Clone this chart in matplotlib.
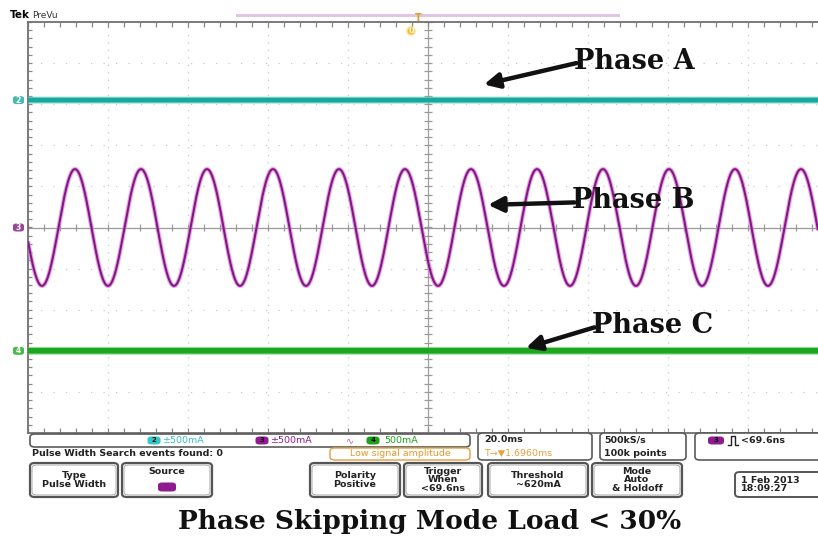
import numpy as np
import matplotlib
matplotlib.use("Agg")
import matplotlib.pyplot as plt
from matplotlib.patches import FancyBboxPatch, Ellipse

# ---- scope settings and channel data ----
time_per_div_ms = 20.0
volts_per_div_a = 0.5            # 500 mA/div on every channel
screen_time_ms = [-100.0, 97.5]  # visible part of the record
screen_divs = [-5.0, 5.0]

channel_names = ["Phase A", "Phase B", "Phase C"]
channel_ids = ["2", "3", "4"]
channel_offsets_div = [3.1, 0.0, -3.0]      # trace position on screen
channel_amplitudes_a = [0.0, 0.71, 0.0]     # peak current of each phase
channel_period_ms = 16.5
channel_peak_ms = -88.25
channel_colors = ["#18a89c", "#801a80", "#1ea61e"]
channel_halos = ["#5fd0c8", "#e07ae0", "#62d062"]
channel_widths = [3.4, 1.5, 4.0]

status_labels = ["±500mA", "±500mA", "500mA"]
button_labels = ["Type\nPulse Width", "Source", "Polarity\nPositive",
                 "Trigger\nWhen\n<69.6ns", "Threshold\n~620mA", "Mode\nAuto\n& Holdoff"]
caption = "Phase Skipping Mode Load < 30%"

W, H = 818, 541
fig = plt.figure(figsize=(W / 100, H / 100), dpi=100)
fig.patch.set_facecolor("white")


def fx(x):
    return x / W


def fy(y):
    return 1 - y / H


# ---- graticule axes ----
left, top, right, bottom = 28, 22, 818, 433
ax = fig.add_axes([fx(left), fy(bottom), fx(right) - fx(left), fy(top) - fy(bottom)])
ax.set_xlim(*screen_time_ms)
ax.set_ylim(*screen_divs)
ax.set_xticks([])
ax.set_yticks([])
for s in ["top", "left", "bottom"]:
    ax.spines[s].set_color("#707070")
    ax.spines[s].set_linewidth(1.3)
ax.spines["right"].set_visible(False)

grid_col = "#c8c8c8"
for k in range(-4, 5):
    t = k * time_per_div_ms
    if k != 0:
        ax.axvline(t, color=grid_col, lw=0.9, ls=(0, (1, 5)), zorder=1)
for k in range(-4, 5):
    if k != 0:
        ax.axhline(k, color=grid_col, lw=0.9, ls=(0, (1, 9)), zorder=1)

# centre crosshair with minor ticks
ax.axvline(0, color="#a0a0a0", lw=0.9, zorder=1)
ax.axhline(0, color="#9a9a9a", lw=0.9, zorder=1)
minor_t = np.arange(-100, 100, time_per_div_ms / 5)
minor_v = np.arange(-5, 5.01, 0.2)
ax.vlines(minor_t, -0.08, 0.08, color="#9a9a9a", lw=0.9, zorder=1)
ax.hlines(minor_v, -0.9, 0.9, color="#9a9a9a", lw=0.9, zorder=1)
# edge ticks
ax.vlines(minor_t, 4.88, 5.0, color="#888888", lw=0.9, zorder=1)
ax.vlines(minor_t, -5.0, -4.88, color="#888888", lw=0.9, zorder=1)
ax.hlines(minor_v, -100, -99.0, color="#888888", lw=0.9, zorder=1)

# ---- traces ----
t = np.linspace(screen_time_ms[0], screen_time_ms[1], 3000)
for name, off, amp, col, halo, lw in zip(channel_names, channel_offsets_div,
                                         channel_amplitudes_a, channel_colors,
                                         channel_halos, channel_widths):
    y = off + (amp / volts_per_div_a) * np.cos(2 * np.pi * (t - channel_peak_ms) / channel_period_ms)
    ax.plot(t, y, color=halo, lw=lw + 1.6, alpha=0.7, zorder=3, solid_capstyle="butt")
    ax.plot(t, y, color=col, lw=lw, zorder=4, solid_capstyle="butt")

# ---- annotations ----
label_font = dict(family="DejaVu Serif", weight="bold", size=19.5, color="#111111")
arrows = [
    ("Phase A", (36.5, 4.05), (14.0, 3.48)),
    ("Phase B", (36.0, 0.66), (15.0, 0.55)),
    ("Phase C", (41.0, -2.38), (24.5, -2.93)),
]
for text, txy, hxy in arrows:
    ax.text(txy[0], txy[1], text, ha="left", va="center", zorder=6, **label_font)
    ax.annotate("", xy=hxy, xytext=(txy[0] + 0.6, txy[1] - 0.05),
                arrowprops=dict(arrowstyle="-|>,head_length=0.9,head_width=0.45",
                                lw=3.2, color="#111111", shrinkA=0, shrinkB=0),
                zorder=6)

# ---- channel markers on the left ----
for cid, off, col in zip(channel_ids, channel_offsets_div, channel_colors):
    ypix = 227.5 - off * 41.1
    fig.patches.append(FancyBboxPatch((fx(13), fy(ypix + 4)), fx(11), 8 / H,
                                      boxstyle="round,pad=0,rounding_size=0.004",
                                      transform=fig.transFigure, fc=col, ec="none",
                                      alpha=0.8))
    fig.text(fx(18.5), fy(ypix), cid, color="white", fontsize=5.5, ha="center",
             va="center", weight="bold")

# ---- header ----
fig.text(fx(10), fy(15), "Tek", fontsize=7.5, weight="bold", va="center", family="DejaVu Sans")
fig.text(fx(32), fy(15), "PreVu", fontsize=6.5, va="center", color="#333333", family="DejaVu Sans")
fig.lines.append(plt.Line2D([fx(237), fx(618)], [fy(15), fy(15)], transform=fig.transFigure,
                            color="#e2c4e6", lw=2.2))
fig.text(fx(418), fy(18), "T", fontsize=7, color="#e0a020", ha="center", va="center", weight="bold")
fig.patches.append(Ellipse((fx(411), fy(31)), 8 / W, 8 / H, transform=fig.transFigure,
                           fc="#f5b830", ec="#ffe080", lw=1))
fig.text(fx(411), fy(31), "U", fontsize=5, color="white", ha="center", va="center", weight="bold")


# ---- bottom status area ----
def box(x0, y0, x1, y1, lw=1.2, ec="#5a5a5a", fc="white", r=0.006):
    p = FancyBboxPatch((fx(x0), fy(y1)), fx(x1) - fx(x0), (y1 - y0) / H,
                       boxstyle=f"round,pad=0,rounding_size={r}", transform=fig.transFigure,
                       fc=fc, ec=ec, lw=lw)
    fig.patches.append(p)


def pill(xc, yc, col, label="", w=13, h=8):
    fig.patches.append(FancyBboxPatch((fx(xc - w / 2), fy(yc + h / 2)), w / W, h / H,
                                      boxstyle="round,pad=0,rounding_size=0.005",
                                      transform=fig.transFigure, fc=col, ec="none"))
    if label:
        fig.text(fx(xc), fy(yc), label, fontsize=5, color="#111111", ha="center",
                 va="center", weight="bold")


small = dict(fontsize=6.8, family="DejaVu Sans", va="center")

box(30, 434, 470, 447)
pill(154, 440.5, "#37c6c6", "2")
fig.text(fx(163), fy(440.5), status_labels[0], color="#37c0c0", **small)
pill(262, 440.5, "#8e1c8e", "3")
fig.text(fx(271), fy(440.5), status_labels[1], color="#8e1c8e", **small)
fig.text(fx(346), fy(440.5), "∿", color="#b060b0", **small)
pill(373, 440.5, "#1e9e1e", "4")
fig.text(fx(384), fy(440.5), status_labels[2], color="#1e9e1e", **small)

fig.text(fx(32), fy(454), "Pulse Width Search events found: 0", color="#222222",
         weight="bold", **small)
box(330, 448, 470, 460, ec="#e0a040", lw=1.0)
fig.text(fx(400), fy(454), "Low signal amplitude", color="#e39a30", ha="center", **small)

box(478, 433, 592, 460)
fig.text(fx(484), fy(440), "20.0ms", color="#222222", weight="bold", **small)
fig.text(fx(484), fy(453), "T→▼1.6960ms", color="#e8a040", **small)

box(600, 433, 686, 460)
fig.text(fx(604), fy(440), "500kS/s", color="#222222", weight="bold", **small)
fig.text(fx(604), fy(453), "100k points", color="#222222", weight="bold", **small)

box(695, 433, 830, 460)
pill(716, 440.5, "#8e1c8e", "3", w=16)
# pulse-width glyph
px = [fx(x) for x in (728, 731, 731, 735, 735, 738)]
py = [fy(y) for y in (445, 445, 436, 436, 445, 445)]
fig.lines.append(plt.Line2D(px, py, transform=fig.transFigure, color="#222222", lw=1.0))
fig.text(fx(741), fy(440.5), "<69.6ns", color="#222222", weight="bold", **small)

button_x = [(30, 118), (122, 212), (310, 400), (404, 482), (488, 588), (592, 682)]
for (x0, x1), lab in zip(button_x, button_labels):
    box(x0, 463, x1, 497, lw=1.6, ec="#555555")
    box(x0 + 2, 465, x1 - 2, 495, lw=0.6, ec="#999999")
    yc = 472 if lab == "Source" else 480
    fig.text(fx((x0 + x1) / 2), fy(yc), lab, color="#222222", ha="center", va="center",
             fontsize=6.8, family="DejaVu Sans", weight="bold", linespacing=0.95)
pill(167, 487, "#8e1c8e", "", w=18, h=9)

box(735, 472, 830, 497, lw=1.4, ec="#555555")
fig.text(fx(741), fy(484.5), "1 Feb 2013\n18:09:27", color="#222222", ha="left",
         va="center", fontsize=6.8, family="DejaVu Sans", weight="bold", linespacing=0.95)

# ---- caption ----
fig.text(fx(430), fy(522), caption, ha="center", va="center", family="DejaVu Serif",
         weight="bold", fontsize=19, color="#111111")

fig.savefig("out.png", dpi=100, facecolor="white")
